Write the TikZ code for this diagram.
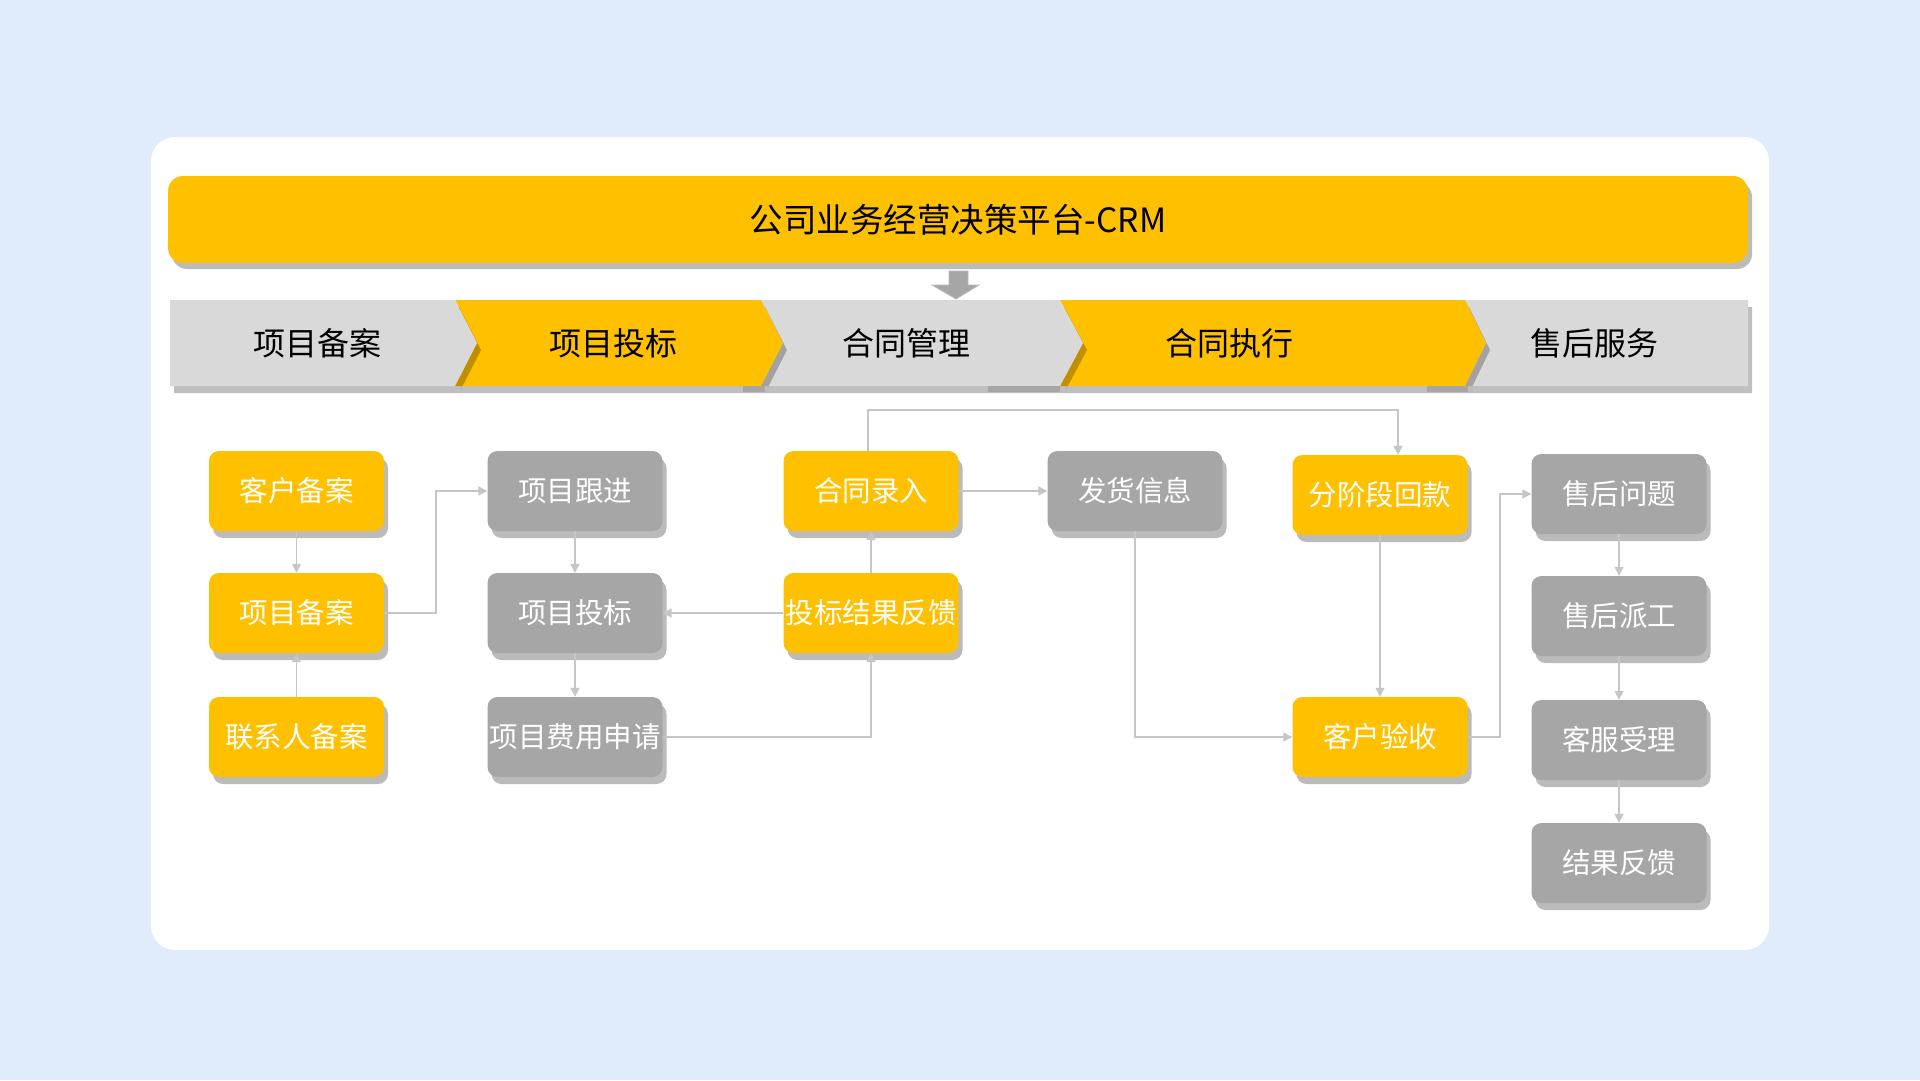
\documentclass[tikz,border=0pt]{standalone}
\usepackage{fontspec}
\newfontfamily\cjk{Noto Sans CJK SC}
\usetikzlibrary{arrows.meta,shadows,calc}
\definecolor{bgblue}{HTML}{E0EBFC}
\definecolor{ylw}{HTML}{FFC000}
\definecolor{gnode}{HTML}{A6A6A6}
\definecolor{gband}{HTML}{D9D9D9}
\definecolor{shd}{HTML}{BBBBBB}
\definecolor{lnc}{HTML}{C6C6C6}
\tikzset{
  nodebox/.style={rounded corners=10pt, minimum width=175pt, minimum height=80pt, inner sep=0pt,
    text=white, font=\cjk\fontsize{28.5}{30}\selectfont,
    general shadow={fill=shd, shadow xshift=4pt, shadow yshift=-7pt}},
  ynode/.style={nodebox, fill=ylw},
  gnodes/.style={nodebox, fill=gnode},
  conn/.style={draw=lnc, line width=1.6pt, -{Triangle[length=9pt,width=9pt]}},
  bandtxt/.style={font=\cjk\fontsize{32}{34}\selectfont, text=black, inner sep=0pt},
  bandshd/.style={fill=black, opacity=0.25, shift={(4,7)}},
}
\begin{document}
\begin{tikzpicture}[x=1pt,y=-1pt]
% background
\fill[bgblue] (0,0) rectangle (1920,1080);
\useasboundingbox (0,0) rectangle (1920,1080);
% card
\fill[white, rounded corners=24pt] (151,137) rectangle (1769,950);

% title bar
\node[fill=ylw, rounded corners=15pt, minimum width=1580pt, minimum height=87pt, inner sep=0pt,
      general shadow={fill=shd, shadow xshift=4pt, shadow yshift=-6pt},
      font=\cjk\fontsize{33.5}{35}\selectfont] (title) at (958,219.5) {公司业务经营决策平台-CRM};

% chevron band, drawn right to left
\def\T{300}\def\B{386}\def\M{343}
% S5
\fill[bandshd] (1465,\T) -- (1748,\T) -- (1748,\B) -- (1465,\B) -- (1486,\M) -- cycle;
\fill[gband] (1465,\T) -- (1748,\T) -- (1748,\B) -- (1465,\B) -- (1486,\M) -- cycle;
% S4
\fill[bandshd] (1060,\T) -- (1465,\T) -- (1486,\M) -- (1465,\B) -- (1060,\B) -- (1083,\M) -- cycle;
\fill[ylw] (1060,\T) -- (1465,\T) -- (1486,\M) -- (1465,\B) -- (1060,\B) -- (1083,\M) -- cycle;
% S3
\fill[bandshd] (761,\T) -- (1060,\T) -- (1083,\M) -- (1060,\B) -- (761,\B) -- (783,\M) -- cycle;
\fill[gband] (761,\T) -- (1060,\T) -- (1083,\M) -- (1060,\B) -- (761,\B) -- (783,\M) -- cycle;
% S2
\fill[bandshd] (455,\T) -- (761,\T) -- (783,\M) -- (761,\B) -- (455,\B) -- (477,\M) -- cycle;
\fill[ylw] (455,\T) -- (761,\T) -- (783,\M) -- (761,\B) -- (455,\B) -- (477,\M) -- cycle;
% S1
\fill[bandshd] (170,\T) -- (455,\T) -- (477,\M) -- (455,\B) -- (170,\B) -- cycle;
\fill[gband] (170,\T) -- (455,\T) -- (477,\M) -- (455,\B) -- (170,\B) -- cycle;
% darker shadow patches
\fill[gnode] (743,386) rectangle (765,392);
\fill[gnode] (988,386) rectangle (1060,392);
\fill[gnode] (1427,386) rectangle (1468,392);
% band labels
\node[bandtxt] (b1) at (317,343) {项目备案};
\node[bandtxt] (b2) at (613,343) {项目投标};
\node[bandtxt] (b3) at (906,343) {合同管理};
\node[bandtxt] (b4) at (1229,343) {合同执行};
\node[bandtxt] (b5) at (1594,343) {售后服务};

% block arrow
\fill[gnode, draw=shd, line width=0.8pt] (949,271) -- (968,271) -- (968,285) -- (979,285) -- (956,299) -- (932,285) -- (949,285) -- cycle;

% nodes
\node[ynode] (khba) at (296.5,491) {客户备案};
\node[ynode] (xmba) at (296.5,613) {项目备案};
\node[ynode] (lxr)  at (296.5,737) {联系人备案};
\node[gnodes] (xmgj) at (575,491) {项目跟进};
\node[gnodes] (xmtb) at (575,613) {项目投标};
\node[gnodes] (fysq) at (575,737) {项目费用申请};
\node[ynode] (htlr) at (871,491) {合同录入};
\node[ynode] (tbfk) at (871,613) {投标结果反馈};
\node[gnodes] (fhxx) at (1135,491) {发货信息};
\node[ynode] (fjd)  at (1380,495) {分阶段回款};
\node[ynode] (khys) at (1380,737) {客户验收};
\node[gnodes] (shwt) at (1619,494) {售后问题};
\node[gnodes] (shpg) at (1619,616) {售后派工};
\node[gnodes] (kfsl) at (1619,740) {客服受理};
\node[gnodes] (jgfk) at (1619,863) {结果反馈};

% connectors
\draw[conn] (khba.south) -- (xmba.north);
\draw[conn] (lxr.north) -- (xmba.south);
\draw[conn] (xmba.east) -- (436,613) -- (436,491) -- (xmgj.west);
\draw[conn] (xmgj.south) -- (xmtb.north);
\draw[conn] (xmtb.south) -- (fysq.north);
\draw[conn] (tbfk.west) -- (xmtb.east);
\draw[conn] (fysq.east) -| (tbfk.south);
\draw[conn] (tbfk.north) -- (htlr.south);
\draw[conn] ($(htlr.north)+(-3,0)$) -- ++(0,-41) -| ($(fjd.north)+(18,0)$);
\draw[conn] (htlr.east) -- (fhxx.west);
\draw[conn] (fhxx.south) |- (khys.west);
\draw[conn] (fjd.south) -- (khys.north);
\draw[conn] (khys.east) -- (1500,737) |- (shwt.west);
\draw[conn] (shwt.south) -- (shpg.north);
\draw[conn] (shpg.south) -- (kfsl.north);
\draw[conn] (kfsl.south) -- (jgfk.north);
\end{tikzpicture}
\end{document}
